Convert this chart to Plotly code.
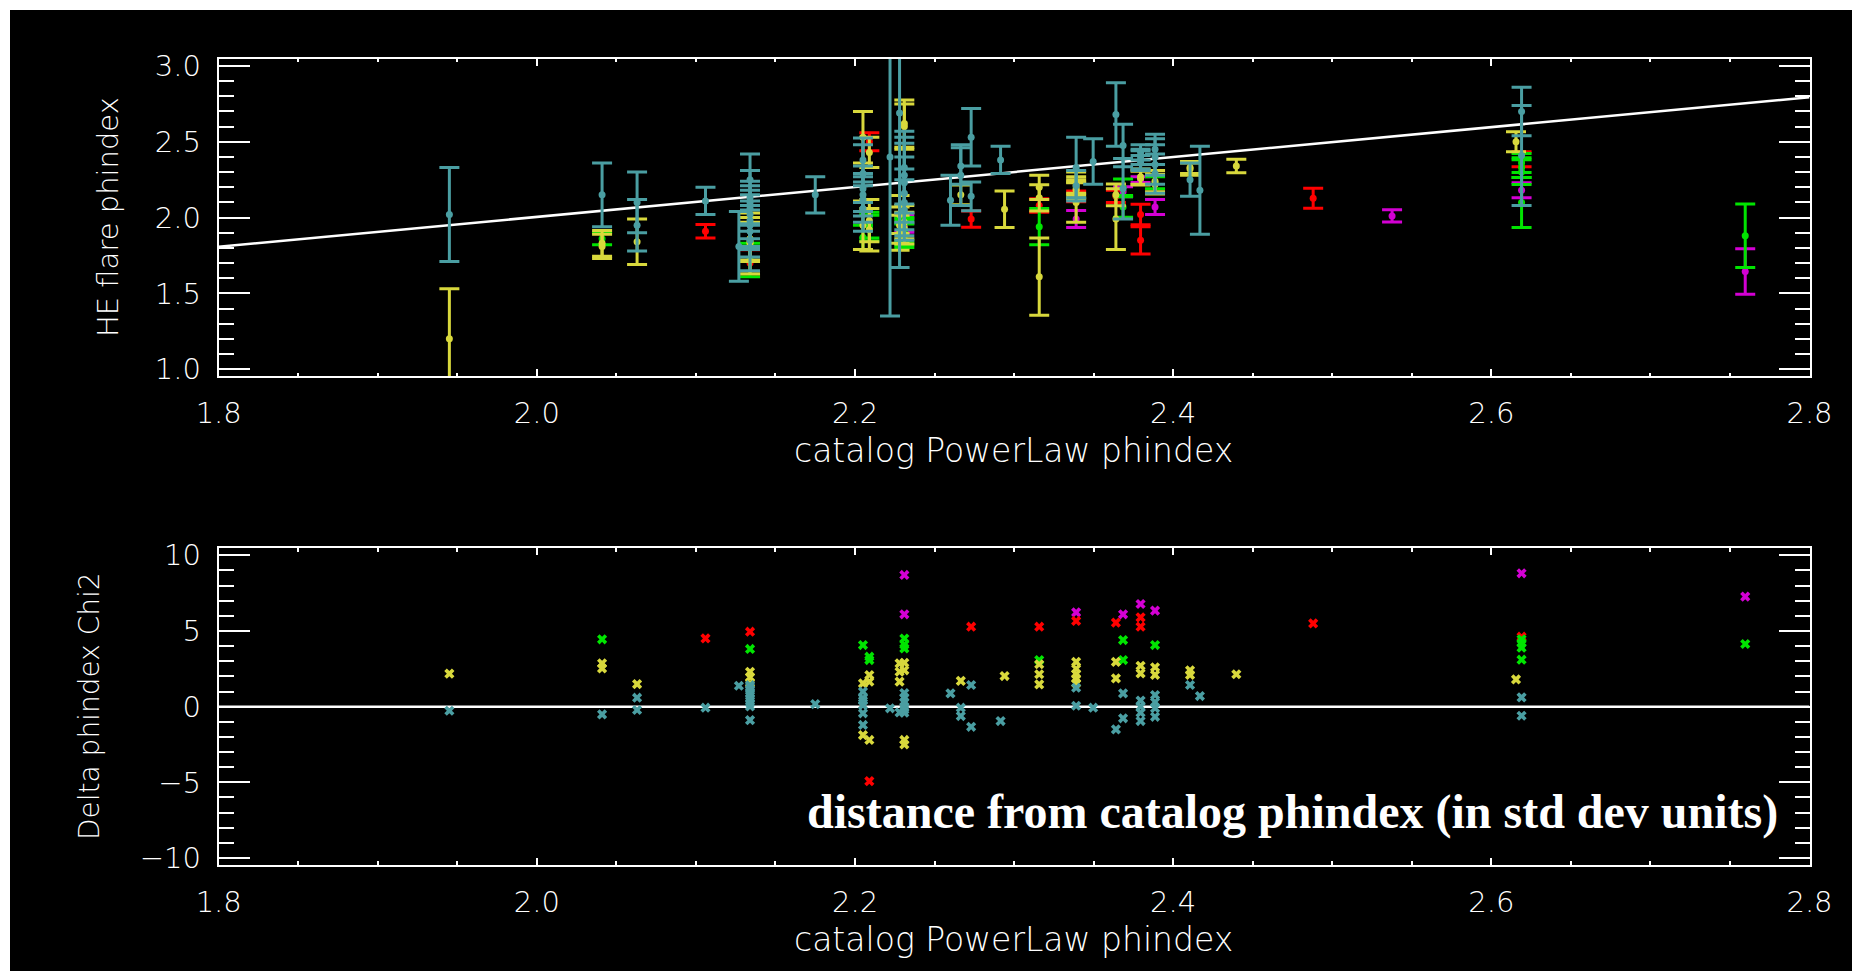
import plotly.graph_objects as go

W, H = 1852, 971

# ---- measurements, one list per quantity and per colour group ----
# catalog PowerLaw phindex (x), HE flare phindex (y), its 1-sigma error,
# and the deviation from the catalog value in std-dev units.
teal_x = [1.945, 2.041, 2.063, 2.063, 2.106, 2.127, 2.134, 2.134, 2.134, 2.134,
          2.134, 2.134, 2.134, 2.134, 2.134, 2.175, 2.205, 2.205, 2.205, 2.205,
          2.205, 2.205, 2.222, 2.228, 2.231, 2.231, 2.231, 2.231, 2.231, 2.231,
          2.260, 2.2665, 2.2665, 2.273, 2.273, 2.2915, 2.339, 2.339, 2.3497, 2.364,
          2.3685, 2.3685, 2.3795, 2.3795, 2.3795, 2.3795, 2.3886, 2.3886, 2.3886, 2.3886,
          2.4106, 2.4168, 2.619, 2.619]
teal_y = [2.02, 2.15, 2.10, 1.95, 2.11, 1.81, 2.25, 2.13, 2.10, 2.06,
          2.02, 1.98, 1.95, 1.91, 1.85, 2.15, 2.38, 2.29, 2.19, 2.15,
          2.12, 2.06, 2.40, 2.69, 2.05, 2.10, 2.16, 2.23, 2.28, 2.33,
          2.115, 2.28, 2.34, 2.53, 2.14, 2.38, 2.33, 2.21, 2.37, 2.68,
          2.475, 2.19, 2.43, 2.40, 2.38, 2.36, 2.45, 2.40, 2.35, 2.29,
          2.25, 2.18, 2.70, 2.41]
teal_err = [0.31, 0.21, 0.20, 0.17, 0.09, 0.23, 0.17, 0.18, 0.14, 0.15,
            0.16, 0.17, 0.16, 0.17, 0.20, 0.12, 0.145, 0.19, 0.15, 0.14,
            0.15, 0.15, 1.05, 1.02, 0.20, 0.22, 0.24, 0.26, 0.25, 0.24,
            0.165, 0.20, 0.12, 0.19, 0.095, 0.09, 0.20, 0.10, 0.15, 0.21,
            0.14, 0.20, 0.05, 0.05, 0.06, 0.05, 0.10, 0.12, 0.13, 0.13,
            0.11, 0.29, 0.16, 0.33]
teal_dev = [-0.27, -0.51, -0.22, 0.59, -0.07, 1.38, -0.89, 0.02, 0.24, 0.49,
            0.71, 0.91, 1.15, 1.32, 1.43, 0.17, -1.21, -0.44, 0.10, 0.39,
            0.57, 0.99, -0.11, -0.38, 0.90, 0.60, 0.30, 0.00, -0.20, -0.40,
            0.88, -0.07, -0.62, -1.33, 1.43, -0.95, 0.06, 1.25, -0.07, -1.50,
            -0.77, 0.88, -0.95, -0.40, 0.00, 0.40, -0.67, -0.10, 0.30, 0.77,
            1.43, 0.70, -0.60, 0.61]

yellow_x = [1.945, 2.041, 2.041, 2.063, 2.134, 2.134, 2.134, 2.205, 2.205, 2.209,
            2.209, 2.209, 2.228, 2.228, 2.228, 2.231, 2.231, 2.231, 2.231, 2.2665,
            2.294, 2.3158, 2.3158, 2.3158, 2.339, 2.339, 2.339, 2.339, 2.339, 2.364,
            2.364, 2.3795, 2.3795, 2.3886, 2.3886, 2.4106, 2.4106, 2.4397, 2.6155]
yellow_y = [1.20, 1.81, 1.83, 1.84, 1.84, 1.86, 1.83, 2.53, 1.95, 1.92,
            1.98, 2.43, 1.90, 1.95, 2.02, 2.60, 2.62, 1.93, 1.97, 2.15,
            2.055, 1.61, 2.13, 2.20, 2.18, 2.19, 2.21, 2.10, 2.23, 2.15,
            1.99, 2.26, 2.27, 2.22, 2.24, 2.32, 2.33, 2.34, 2.50]
yellow_err = [0.33, 0.08, 0.085, 0.15, 0.13, 0.14, 0.20, 0.17, 0.16, 0.14,
              0.14, 0.10, 0.115, 0.12, 0.125, 0.15, 0.156, 0.105, 0.11, 0.065,
              0.12, 0.255, 0.087, 0.08, 0.055, 0.06, 0.06, 0.13, 0.07, 0.072,
              0.20, 0.045, 0.05, 0.065, 0.07, 0.04, 0.04, 0.045, 0.066]
yellow_dev = [2.18, 2.86, 2.53, 1.49, 2.30, 1.95, 1.55, -1.88, 1.54, 2.09,
              1.65, -2.20, 2.86, 2.31, 1.65, -2.20, -2.50, 2.90, 2.40, 1.70,
              2.02, 2.80, 2.14, 1.47, 2.96, 2.50, 2.15, 1.85, 1.55, 2.96,
              1.87, 2.70, 2.20, 2.60, 2.10, 2.40, 2.10, 2.14, 1.80]

green_x = [2.041, 2.134, 2.205, 2.209, 2.209, 2.231, 2.231, 2.231, 2.3158, 2.3685,
           2.3685, 2.3886, 2.619, 2.619, 2.619, 2.619, 2.7596]
green_y = [1.86, 1.72, 1.87, 1.93, 1.95, 1.88, 1.90, 1.92, 1.94, 2.07,
           2.20, 2.23, 2.33, 2.36, 2.30, 2.10, 1.88]
green_err = [0.04, 0.11, 0.08, 0.085, 0.085, 0.078, 0.08, 0.08, 0.12, 0.068,
             0.055, 0.04, 0.065, 0.062, 0.082, 0.165, 0.21]
green_dev = [4.45, 3.81, 4.07, 3.30, 3.08, 4.50, 4.10, 3.85, 3.08, 4.40,
             3.08, 4.07, 4.45, 4.20, 3.90, 3.10, 4.14]

red_x = [2.106, 2.134, 2.209, 2.273, 2.3158, 2.339, 2.364, 2.3795, 2.3795, 2.488, 2.619]
red_y = [1.91, 1.70, 2.50, 1.99, 2.08, 2.14, 2.14, 1.85, 2.02, 2.128, 2.385]
red_err = [0.045, 0.088, 0.059, 0.053, 0.045, 0.035, 0.04, 0.09, 0.068, 0.066, 0.05]
red_dev = [4.51, 4.95, -4.92, 5.28, 5.28, 5.66, 5.55, 5.90, 5.28, 5.50, 4.62]

magenta_x = [2.231, 2.231, 2.339, 2.3685, 2.3795, 2.3886, 2.5376, 2.619, 2.7596]
magenta_y = [1.99, 1.95, 1.99, 2.17, 2.25, 2.07, 2.011, 2.18, 1.644]
magenta_err = [0.028, 0.046, 0.056, 0.033, 0.019, 0.05, 0.04, 0.05, 0.15]
magenta_dev = [8.70, 6.10, 6.23, 6.10, 6.78, 6.34, None, 8.81, 7.27]

# straight-line reference in the upper panel
fit_x = [1.8, 2.8]
fit_y = [1.807, 2.794]

# zero line in the lower panel
zero_x = [1.8, 2.8]
zero_y = [0.0, 0.0]

COLORS = {
    "magenta": "#d400d4",
    "red": "#ff0000",
    "green": "#00e400",
    "yellow": "#d8d83c",
    "teal": "#4a9ea2",
}

groups = [
    ("magenta", magenta_x, magenta_y, magenta_err, magenta_dev),
    ("red", red_x, red_y, red_err, red_dev),
    ("green", green_x, green_y, green_err, green_dev),
    ("yellow", yellow_x, yellow_y, yellow_err, yellow_dev),
    ("teal", teal_x, teal_y, teal_err, teal_dev),
]

AX_FONT = dict(family="DejaVu Sans", size=29, color="white", weight=200)


def px_x(p):
    """pixel column -> paper fraction"""
    return p / W


def px_y(p):
    """pixel row -> paper fraction"""
    return 1 - p / H


fig = go.Figure()

fig.add_trace(go.Scatter(x=fit_x, y=fit_y, mode="lines", xaxis="x", yaxis="y",
                         line=dict(color="white", width=2.5), showlegend=False,
                         hoverinfo="skip"))
fig.add_trace(go.Scatter(x=zero_x, y=zero_y, mode="lines", xaxis="x2", yaxis="y2",
                         line=dict(color="white", width=2.5), showlegend=False,
                         hoverinfo="skip"))

for name, xs, ys, errs, devs in groups:
    c = COLORS[name]
    fig.add_trace(go.Scatter(
        x=xs, y=ys, mode="markers", xaxis="x", yaxis="y", name=name,
        marker=dict(color=c, size=7, symbol="circle"),
        error_y=dict(type="data", array=errs, visible=True, color=c,
                     thickness=3, width=10),
        showlegend=False))
    fig.add_trace(go.Scatter(
        x=xs, y=devs, mode="markers", xaxis="x2", yaxis="y2", name=name,
        marker=dict(color=c, size=9, symbol="x", line=dict(width=0)),
        showlegend=False))


def x_axis(domain, anchor):
    return dict(
        domain=domain, anchor=anchor, range=[1.8, 2.8], automargin=False,
        tickmode="linear", tick0=1.8, dtick=0.2, tickformat=".1f",
        ticks="inside", ticklen=7, tickwidth=2, tickcolor="white",
        minor=dict(ticks="inside", dtick=0.05, ticklen=3.5, tickwidth=2,
                   tickcolor="white", showgrid=False),
        showline=True, linecolor="white", linewidth=2, mirror="ticks",
        showgrid=False, zeroline=False, tickfont=AX_FONT,
        ticklabelstandoff=10,
    )


def y_axis(domain, anchor, rng, dtick, minor, fmt):
    return dict(
        domain=domain, anchor=anchor, range=rng, automargin=False,
        tickmode="linear", tick0=0, dtick=dtick, tickformat=fmt,
        ticks="inside", ticklen=31, tickwidth=2, tickcolor="white",
        minor=dict(ticks="inside", dtick=minor, ticklen=15, tickwidth=2,
                   tickcolor="white", showgrid=False),
        showline=True, linecolor="white", linewidth=2, mirror="ticks",
        showgrid=False, zeroline=False, tickfont=AX_FONT,
        ticklabelstandoff=10,
    )


x_dom = [px_x(218.7), px_x(1809.5)]
top_dom = [px_y(376), px_y(58.7)]
bot_dom = [px_y(864.7), px_y(548)]

fig.update_layout(
    template="none",
    width=W, height=H, autosize=False,
    margin=dict(l=0, r=0, t=0, b=0, pad=0, autoexpand=False),
    paper_bgcolor="black", plot_bgcolor="black", showlegend=False,
    xaxis=x_axis(x_dom, "y"),
    yaxis=y_axis(top_dom, "x", [0.955, 3.048], 0.5, 0.1, ".1f"),
    xaxis2=x_axis(x_dom, "y2"),
    yaxis2=y_axis(bot_dom, "x2", [-10.44, 10.48], 5, 1, "d"),
    # white border strips along the top and left edges
    shapes=[dict(type="rect", xref="paper", yref="paper", layer="below",
                 x0=0, x1=px_x(10), y0=0, y1=1,
                 fillcolor="white", line=dict(width=0)),
            dict(type="rect", xref="paper", yref="paper", layer="below",
                 x0=0, x1=1, y0=px_y(10), y1=1,
                 fillcolor="white", line=dict(width=0))],
    annotations=[
        dict(text="HE flare phindex", x=px_x(108), y=px_y(217), xref="paper",
             yref="paper", textangle=-90, showarrow=False,
             xanchor="center", yanchor="middle",
             font=dict(family="DejaVu Sans", size=29, color="white", weight=200)),
        dict(text="catalog PowerLaw phindex", x=px_x(1013), y=px_y(450),
             xref="paper", yref="paper", showarrow=False,
             xanchor="center", yanchor="middle",
             font=dict(family="DejaVu Sans", size=33, color="white", weight=200)),
        dict(text="Delta phindex Chi2", x=px_x(89), y=px_y(706), xref="paper",
             yref="paper", textangle=-90, showarrow=False,
             xanchor="center", yanchor="middle",
             font=dict(family="DejaVu Sans", size=28, color="white", weight=200)),
        dict(text="catalog PowerLaw phindex", x=px_x(1013), y=px_y(939),
             xref="paper", yref="paper", showarrow=False,
             xanchor="center", yanchor="middle",
             font=dict(family="DejaVu Sans", size=33, color="white", weight=200)),
        dict(text="distance from catalog phindex (in std dev units)",
             x=px_x(1780), y=px_y(812), xref="paper", yref="paper",
             showarrow=False, xanchor="right", yanchor="middle",
             font=dict(family="Liberation Serif", size=48, color="white",
                       weight="bold")),
    ],
)

fig.write_html("out.html")
